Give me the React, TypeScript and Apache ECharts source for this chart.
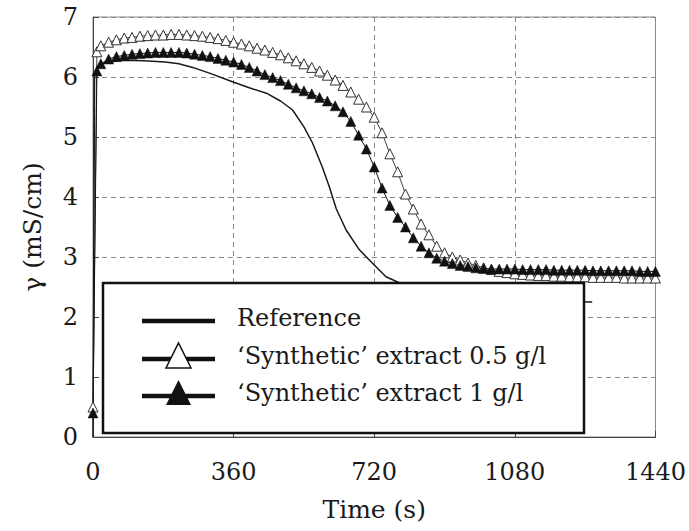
import { useEffect, useRef } from 'react'
import * as echarts from 'echarts'

// sampling times (s) of the two extract curves
const sampleTimes = [
  0, 10, 20, 40, 60, 80, 100, 120, 140, 160, 180, 200, 220, 240, 260, 280, 300, 320, 340, 360,
  380, 400, 420, 440, 460, 480, 500, 520, 540, 560, 580, 600, 620, 640, 660, 680, 700, 720, 740, 760,
  780, 800, 820, 840, 860, 880, 900, 920, 940, 960, 980, 1000, 1020, 1040, 1060, 1080, 1100, 1120, 1140, 1160,
  1180, 1200, 1220, 1240, 1260, 1280, 1300, 1320, 1340, 1360, 1380, 1400, 1420, 1440,
]

// 'Synthetic' extract 0.5 g/l (open triangles)
const extractHalf = [
  0.5, 6.42, 6.52, 6.58, 6.62, 6.65, 6.66, 6.68, 6.69, 6.7, 6.7, 6.71, 6.71, 6.7, 6.69, 6.68, 6.66, 6.64, 6.61, 6.58,
  6.55, 6.52, 6.48, 6.45, 6.41, 6.37, 6.32, 6.27, 6.22, 6.16, 6.1, 6.03, 5.95, 5.86, 5.75, 5.63, 5.5, 5.33, 5.07, 4.72,
  4.42, 4.05, 3.8, 3.55, 3.37, 3.18, 3.07, 3.0, 2.95, 2.9, 2.86, 2.82, 2.79, 2.76, 2.74, 2.72, 2.71, 2.7, 2.69, 2.69,
  2.68, 2.68, 2.67, 2.67, 2.67, 2.66, 2.66, 2.66, 2.66, 2.65, 2.65, 2.65, 2.65, 2.65,
]

// 'Synthetic' extract 1 g/l (filled triangles)
const extractOne = [
  0.4, 6.1, 6.22, 6.3, 6.34, 6.36, 6.38, 6.39, 6.4, 6.41, 6.41, 6.41, 6.41, 6.4, 6.38, 6.36, 6.34, 6.31, 6.28, 6.25,
  6.21, 6.16, 6.1, 6.04, 5.99, 5.94, 5.88, 5.82, 5.77, 5.72, 5.66, 5.6, 5.52, 5.42, 5.26, 5.03, 4.8, 4.5, 4.15, 3.86,
  3.66, 3.5, 3.32, 3.18, 3.07, 2.98, 2.93, 2.89, 2.86, 2.84, 2.82, 2.81, 2.8, 2.8, 2.8, 2.8, 2.79, 2.79, 2.79, 2.79,
  2.78, 2.78, 2.78, 2.78, 2.78, 2.77, 2.77, 2.77, 2.77, 2.77, 2.77, 2.76, 2.76, 2.76,
]

// Reference curve (plain line)
const refTimes = [
  0, 4, 15, 40, 80, 130, 185, 220, 255, 300, 357, 400, 444, 480, 511, 540, 562, 587, 605, 623,
  648, 682, 715, 750, 784, 850, 950, 1050, 1150, 1278,
]
const refValues = [
  0, 6.05, 6.2, 6.25, 6.28, 6.27, 6.25, 6.22, 6.16, 6.06, 5.92, 5.82, 5.73, 5.6, 5.45, 5.17, 4.9, 4.5, 4.17, 3.8,
  3.45, 3.12, 2.9, 2.67, 2.57, 2.43, 2.33, 2.28, 2.26, 2.25,
]

const seriesNames = ['Reference', '\u2018Synthetic\u2019 extract 0.5 g/l', '\u2018Synthetic\u2019 extract 1 g/l']

const font = 'DejaVu Serif'

export default function App() {
  const chartRef = useRef<HTMLDivElement>(null)

  useEffect(() => {
    if (!chartRef.current) return
    const chart = echarts.init(chartRef.current, null, { renderer: 'svg' })

    const pairs = (xs: number[], ys: number[]) => xs.map((x, i) => [x, ys[i]])
    const rows = [321, 359, 396]

    const legend: any[] = [
      {
        type: 'rect',
        z: 50,
        shape: { x: 103, y: 283, width: 481, height: 150 },
        style: { fill: '#fff', stroke: '#111', lineWidth: 2.5 },
      },
    ]
    rows.forEach((y, i) => {
      legend.push({
        type: 'line',
        z: 51,
        shape: { x1: 142, y1: y, x2: 215, y2: y },
        style: { stroke: '#111', lineWidth: 4.5 },
      })
      if (i > 0) {
        legend.push({
          type: 'polygon',
          z: 52,
          shape: { points: [[166, y + 9], [191, y + 9], [178.5, y - 16]] },
          style: i === 1 ? { fill: '#fff', stroke: '#111', lineWidth: 1.5 } : { fill: '#111' },
        })
      }
      legend.push({
        type: 'text',
        z: 52,
        x: 237,
        y: y - 3,
        style: { text: seriesNames[i], font: `24px ${font}`, fill: '#1a1a1a', verticalAlign: 'middle' },
      })
    })

    chart.setOption({
      animation: false,
      textStyle: { fontFamily: font },
      grid: { left: 93, right: 32, top: 17, bottom: 94, show: true, borderColor: '#888', borderWidth: 1 },
      xAxis: {
        type: 'value',
        min: 0,
        max: 1440,
        interval: 360,
        name: 'Time (s)',
        nameLocation: 'middle',
        nameGap: 60,
        nameTextStyle: { fontSize: 25, color: '#1a1a1a', fontFamily: font },
        axisLine: { show: true, lineStyle: { color: '#444', width: 1 } },
        axisTick: { show: true, inside: true, length: 6, lineStyle: { color: '#444' } },
        axisLabel: { fontSize: 24, color: '#1a1a1a', margin: 23, fontFamily: font, formatter: (v: number) => String(v) },
        splitLine: { show: true, lineStyle: { type: [5, 4], color: '#888', width: 1 } },
      },
      yAxis: {
        type: 'value',
        min: 0,
        max: 7,
        interval: 1,
        name: '\u03b3 (mS/cm)',
        nameLocation: 'middle',
        nameGap: 48,
        nameTextStyle: { fontSize: 25, color: '#1a1a1a', fontFamily: font },
        axisLine: { show: true, lineStyle: { color: '#444', width: 1 } },
        axisTick: { show: true, inside: true, length: 6, lineStyle: { color: '#444' } },
        axisLabel: { fontSize: 24, color: '#1a1a1a', margin: 15, fontFamily: font },
        splitLine: { show: true, lineStyle: { type: [5, 4], color: '#888', width: 1 } },
      },
      series: [
        {
          name: seriesNames[0],
          type: 'line',
          showSymbol: false,
          symbol: 'none',
          data: pairs(refTimes, refValues),
          lineStyle: { color: '#1a1a1a', width: 1.5 },
        },
        {
          name: seriesNames[1],
          type: 'line',
          symbol: 'triangle',
          symbolSize: [10, 10],
          data: pairs(sampleTimes, extractHalf),
          lineStyle: { color: '#444', width: 1 },
          itemStyle: { color: '#fff', borderColor: '#333', borderWidth: 1 },
        },
        {
          name: seriesNames[2],
          type: 'line',
          symbol: 'triangle',
          symbolSize: [10, 10],
          data: pairs(sampleTimes, extractOne),
          lineStyle: { color: '#111', width: 1 },
          itemStyle: { color: '#111', borderColor: '#111', borderWidth: 0.5 },
        },
      ],
      graphic: legend,
    })

    return () => chart.dispose()
  }, [])

  return <div ref={chartRef} style={{ position: 'absolute', left: 0, top: 0, width: 689, height: 531 }} />
}
